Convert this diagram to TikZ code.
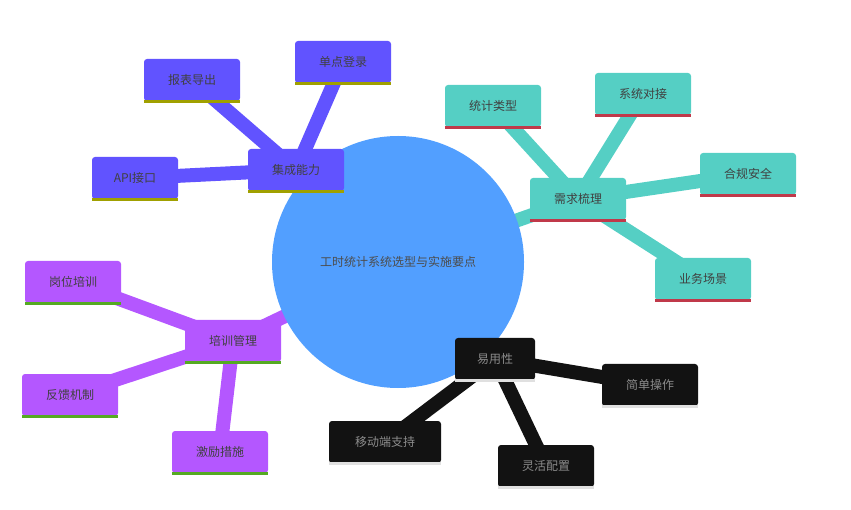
\documentclass[tikz,border=0pt]{standalone}
\usepackage{fontspec}
\newfontfamily\cjk{Noto Sans CJK SC}
\definecolor{jicheng}{HTML}{6153FF}
\definecolor{xuqiu}{HTML}{55CFC4}
\definecolor{peixun}{HTML}{B457FF}
\definecolor{yiyong}{HTML}{121212}
\definecolor{hub}{HTML}{529FFF}
\definecolor{olive}{HTML}{A0A000}
\definecolor{redline}{HTML}{C0394A}
\definecolor{greenline}{HTML}{55AA22}
\definecolor{grayline}{HTML}{E0E0E0}
\tikzset{
  mmbox/.style={rounded corners=3pt, inner sep=0pt, minimum height=42pt,
    minimum width=#1, font=\cjk\fontsize{12}{14}\selectfont, text=black!75},
  mmbox/.default=96pt,
  branch/.style={line width=14pt},
  ul/.style={line width=3pt}
}
\begin{document}
\begin{tikzpicture}[x=1pt,y=-1pt]
\useasboundingbox (0,0) rectangle (851,510);
% branch lines
\coordinate (hubc) at (398,262);
\draw[branch, jicheng] (192,80) -- (296,170) (343,62) -- (296,170) (135,178) -- (296,170) (296,170) -- (hubc);
\draw[branch, xuqiu] (493,106) -- (578,199) (643,94) -- (578,199) (748,174) -- (578,199) (703,279) -- (578,199) (578,199) -- (hubc);
\draw[branch, peixun] (73,282) -- (233,341) (70,395) -- (233,341) (220,452) -- (233,341) (233,341) -- (hubc);
\draw[branch, yiyong] (650,385) -- (495,359) (385,442) -- (495,359) (546,466) -- (495,359) (495,359) -- (hubc);
% hub
\node[circle, fill=hub, minimum size=252pt, inner sep=0pt,
  font=\cjk\fontsize{12}{14}\selectfont, text=black!70] (hub) at (hubc) {工时统计系统选型与实施要点};
% nodes
\foreach \n/\x/\y/\t/\w/\c/\u/\tc in {
  jc/296/170/集成能力/96/jicheng/olive/black!75,
  bb/192/80/报表导出/96/jicheng/olive/black!75,
  dd/343/62/单点登录/96/jicheng/olive/black!75,
  api/135/178/API接口/86/jicheng/olive/black!75,
  xq/578/199/需求梳理/96/xuqiu/redline/black!75,
  tj/493/106/统计类型/96/xuqiu/redline/black!75,
  xt/643/94/系统对接/96/xuqiu/redline/black!75,
  hg/748/174/合规安全/96/xuqiu/redline/black!75,
  yw/703/279/业务场景/96/xuqiu/redline/black!75,
  px/233/341/培训管理/96/peixun/greenline/black!75,
  gw/73/282/岗位培训/96/peixun/greenline/black!75,
  fk/70/395/反馈机制/96/peixun/greenline/black!75,
  jl/220/452/激励措施/96/peixun/greenline/black!75,
  yy/495/359/易用性/80/yiyong/grayline/black!45,
  jd/650/385/简单操作/96/yiyong/grayline/black!45,
  yd/385/442/移动端支持/112/yiyong/grayline/black!45,
  lh/546/466/灵活配置/96/yiyong/grayline/black!45}{
  \node[mmbox=\w pt, fill=\c, text=\tc] (\n) at (\x,\y) {\t};
  \draw[ul, \u] (\n.south west) -- (\n.south east);
}
\end{tikzpicture}
\end{document}
